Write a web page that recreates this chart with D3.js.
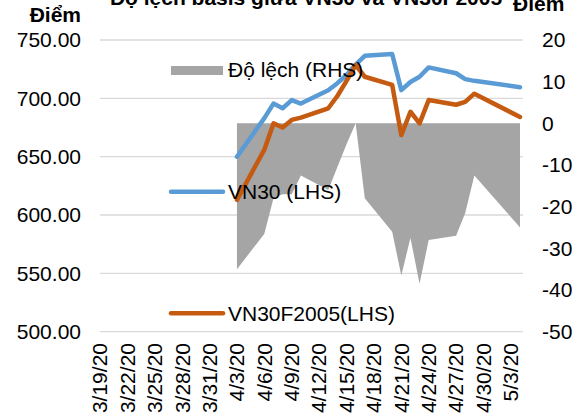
<!DOCTYPE html>
<html>
<head>
<meta charset="utf-8">
<script src="https://cdn.jsdelivr.net/npm/d3@7"></script>
<style>
  body { margin: 0; background: #fff; }
  text { font-family: "Liberation Sans", Arial, sans-serif; fill: #000; }
</style>
</head>
<body>
<script>
// data
var dates = ["2020-04-03", "2020-04-06", "2020-04-07", "2020-04-08", "2020-04-09", "2020-04-10",
    "2020-04-13", "2020-04-14", "2020-04-15", "2020-04-16", "2020-04-17",
    "2020-04-20", "2020-04-21", "2020-04-22", "2020-04-23", "2020-04-24",
    "2020-04-27", "2020-04-28", "2020-04-29", "2020-05-04"];
var vn30 = [650, 683, 695.5, 691.5, 698.5, 695.5, 707, 713, 720, 729, 736.5,
    738, 707, 714, 718.5, 726.5, 721.5, 716.5, 715, 709.5];
var vn30f = [613, 656, 678.5, 675, 681.5, 683.5, 691.5, 702, 715, 728.5, 718.5,
    711.5, 668.5, 688.5, 678.5, 698.5, 694.5, 697, 704, 684];
var basis = [-35, -26.5, -18, -17, -17, -12.5, -16, -10.5, -5, 0, -18,
    -26, -36.5, -27.5, -38.5, -28, -27, -21.5, -12.5, -25];
var leftTicks = [500, 550, 600, 650, 700, 750];
var rightTicks = [-50, -40, -30, -20, -10, 0, 10, 20];
var title = "Độ lệch basis giữa VN30 và VN30F2005";

var width = 581;
var height = 419;
var fontSize = "21px";
var parse = d3.timeParse("%Y-%m-%d");
var rows = dates.map(function (d, i) {
    return { date: parse(d), vn30: vn30[i], vn30f: vn30f[i], basis: basis[i] };
});

var svg = d3.select("body").append("svg")
    .attr("width", width)
    .attr("height", height);

var x = d3.scaleTime()
    .domain([parse("2020-03-19"), parse("2020-05-04")])
    .range([100, 520]);
var yL = d3.scaleLinear().domain([500, 750]).range([331.7, 40]);
var yR = d3.scaleLinear().domain([-50, 20]).range([331.7, 40]);

// gridlines
svg.append("g").selectAll("line")
    .data(leftTicks)
    .enter().append("line")
    .attr("x1", 100).attr("x2", 523)
    .attr("y1", function (d) { return yL(d); })
    .attr("y2", function (d) { return yL(d); })
    .attr("stroke", "#d9d9d9")
    .attr("stroke-width", 1.3);

// basis area (RHS)
var area = d3.area()
    .x(function (d) { return x(d.date); })
    .y0(yR(0))
    .y1(function (d) { return yR(d.basis); });
svg.append("path")
    .datum(rows)
    .attr("d", area)
    .attr("fill", "#a5a5a5");

// lines (LHS)
function drawLine(key, color) {
    var line = d3.line()
        .x(function (d) { return x(d.date); })
        .y(function (d) { return yL(d[key]); });
    svg.append("path")
        .datum(rows)
        .attr("d", line)
        .attr("fill", "none")
        .attr("stroke", color)
        .attr("stroke-width", 4.5)
        .attr("stroke-linejoin", "round")
        .attr("stroke-linecap", "round");
}
drawLine("vn30", "#5b9bd5");
drawLine("vn30f", "#c55a11");

// left axis labels
svg.append("g").selectAll("text")
    .data(leftTicks)
    .enter().append("text")
    .attr("x", 81)
    .attr("y", function (d) { return yL(d); })
    .attr("dy", "0.35em")
    .attr("text-anchor", "end")
    .attr("font-size", fontSize)
    .text(function (d) { return d.toFixed(2); });

// right axis labels
svg.append("g").selectAll("text")
    .data(rightTicks)
    .enter().append("text")
    .attr("x", 542)
    .attr("y", function (d) { return yR(d); })
    .attr("dy", "0.35em")
    .attr("font-size", fontSize)
    .text(function (d) { return String(d); });

// date labels every 3 days
var dateTicks = d3.timeDay.range(parse("2020-03-19"), parse("2020-05-04"), 3);
var fmt = function (d) { return (d.getMonth() + 1) + "/" + d.getDate() + "/20"; };
svg.append("g").selectAll("text")
    .data(dateTicks)
    .enter().append("text")
    .attr("transform", function (d) { return "translate(" + x(d) + ",343) rotate(-90)"; })
    .attr("dy", "0.35em")
    .attr("text-anchor", "end")
    .attr("font-size", fontSize)
    .text(fmt);

// titles (cut off at the top, as in the original)
svg.append("text")
    .attr("x", 306).attr("y", 5)
    .attr("text-anchor", "middle")
    .attr("font-size", "21px")
    .attr("font-weight", "bold")
    .text(title);
svg.append("text")
    .attr("x", 81).attr("y", 22)
    .attr("text-anchor", "end")
    .attr("font-size", fontSize)
    .attr("font-weight", "bold")
    .text("Điểm");
svg.append("text")
    .attr("x", 513).attr("y", 11)
    .attr("font-size", fontSize)
    .attr("font-weight", "bold")
    .text("Điểm");

// legend
svg.append("rect")
    .attr("x", 171).attr("y", 66)
    .attr("width", 52).attr("height", 9)
    .attr("fill", "#a5a5a5");
svg.append("text")
    .attr("x", 228).attr("y", 77)
    .attr("font-size", fontSize)
    .text("Độ lệch (RHS)");

var legendLines = [
    { name: "VN30 (LHS)", color: "#5b9bd5", y: 191.7 },
    { name: "VN30F2005(LHS)", color: "#c55a11", y: 313.3 }
];
legendLines.forEach(function (l) {
    svg.append("line")
        .attr("x1", 171).attr("x2", 223)
        .attr("y1", l.y).attr("y2", l.y)
        .attr("stroke", l.color)
        .attr("stroke-width", 4.5)
        .attr("stroke-linecap", "round");
    svg.append("text")
        .attr("x", 228).attr("y", l.y + 7.5)
        .attr("font-size", fontSize)
        .text(l.name);
});
</script>
</body>
</html>
